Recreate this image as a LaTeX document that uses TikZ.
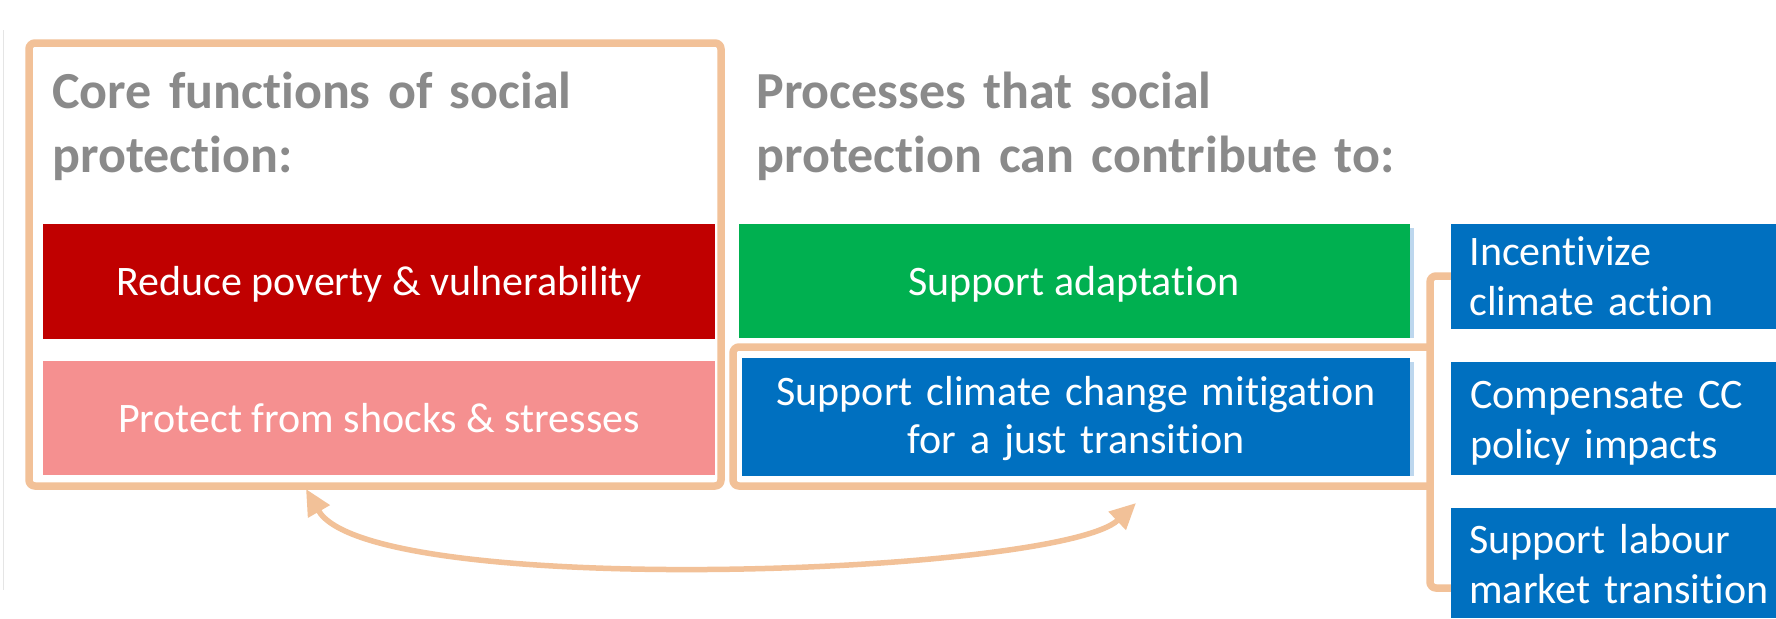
\documentclass[tikz,border=0pt]{standalone}
\usepackage{fontspec}
\setmainfont{Carlito}[Ligatures={NoCommon}]
\usetikzlibrary{arrows.meta}
\definecolor{framec}{RGB}{242,193,152}
\definecolor{redc}{RGB}{192,0,0}
\definecolor{pinkc}{RGB}{245,144,144}
\definecolor{greenc}{RGB}{0,176,80}
\definecolor{bluec}{RGB}{0,112,192}
\definecolor{shadowc}{RGB}{189,215,238}
\definecolor{titlec}{RGB}{138,138,138}
\begin{document}
\begin{tikzpicture}[x=0.5pt,y=-0.5pt,
  boxstyle/.style={rectangle, inner sep=0pt, draw=none},
  frameline/.style={draw=framec, line width=3.75pt, rounded corners=3pt},
  titletext/.style={anchor=base west, inner sep=0pt, text=titlec, text width=330pt, align=left,
    font=\fontsize{26}{32}\selectfont\bfseries},
  boxtext/.style={anchor=base, inner sep=0pt, text=white, font=\fontsize{21}{24}\selectfont},
  sidetext/.style={anchor=base west, inner sep=0pt, text=white, text width=150pt, align=left,
    font=\fontsize{21}{25}\selectfont}]
\useasboundingbox (0,0) rectangle (1776,618);
\fill[white] (0,0) rectangle (1776,618);
\draw[black!10, line width=0.5pt] (3,30) -- (3,590);

% left frame
\draw[frameline] (29,43) rectangle (721,486);

% titles
\node[titletext] (t1) at (52,108) {Core functions of social\\protection:};
\node[titletext] (t2) at (756,108) {Processes that social\\protection can contribute to:};

% left boxes
\node[boxstyle, fill=redc, minimum width=336pt, minimum height=57.5pt] (red) at (379,281.5) {};
\node[boxtext] (redt) at (379,295) {Reduce poverty \& vulnerability};
\node[boxstyle, fill=pinkc, minimum width=336pt, minimum height=57pt] (pink) at (379,418) {};
\node[boxtext] (pinkt) at (379,432) {Protect from shocks \& stresses};

% middle boxes
\fill[shadowc] (1408,228) rectangle (1414,338);
\node[boxstyle, fill=greenc, minimum width=335.5pt, minimum height=57pt] (green) at (1074.5,281) {};
\node[boxtext] (greent) at (1074,295) {Support adaptation};

\draw[frameline] (1430,347) -- (733,347) -- (733,486) -- (1430,486);
\draw[frameline] (1451,276) -- (1430,276) -- (1430,588) -- (1451,588);

\fill[shadowc] (1408,362) rectangle (1414,476);
\node[boxstyle, fill=bluec, minimum width=334pt, minimum height=59pt] (blue) at (1076,417) {};
\node[boxtext, text width=330pt, align=center, font=\fontsize{21}{24}\selectfont] (bluet) at (1076,405)
  {Support climate change mitigation\\for a just transition};

% right boxes
\node[boxstyle, fill=bluec, minimum width=162.5pt, minimum height=52.5pt] (r1) at (1613.5,276.5) {};
\node[sidetext] (r1t) at (1469,265) {Incentivize\\climate action};
\node[boxstyle, fill=bluec, minimum width=162.5pt, minimum height=56.5pt] (r2) at (1613.5,418.5) {};
\node[sidetext] (r2t) at (1470,408) {Compensate CC\\policy impacts};
\node[boxstyle, fill=bluec, minimum width=162.5pt, minimum height=55pt] (r3) at (1613.5,563) {};
\node[sidetext] (r3t) at (1469,553) {Support labour\\market transition};

% two-headed arrow
\coordinate (aleft) at (306,489);
\coordinate (aright) at (1136,503);
\draw[draw=framec, line width=2.75pt, {Triangle[length=13pt,width=12pt]}-{Triangle[length=13pt,width=12pt]}]
  (aleft) .. controls (370,600) and (1060,575) .. (aright);
\end{tikzpicture}
\end{document}
